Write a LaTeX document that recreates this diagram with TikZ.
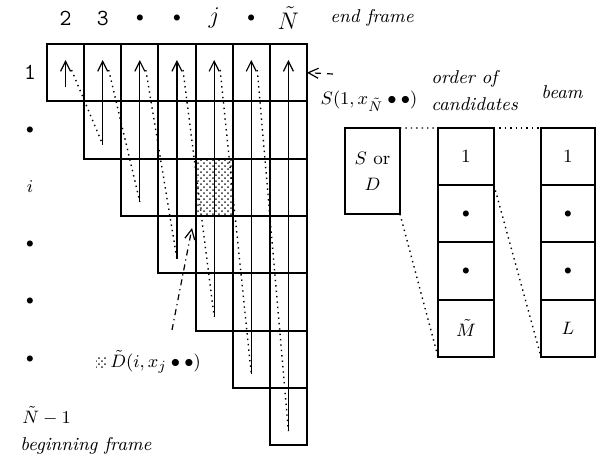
\documentclass[tikz,border=0pt]{standalone}
\usepackage{tikz}
\usetikzlibrary{arrows.meta,patterns}

\begin{document}
\begin{tikzpicture}[x=0.5pt, y=-0.5pt, font=\fontsize{9.3}{11}\selectfont,
  cell/.style={draw, line width=1pt, minimum width=18.57pt, minimum height=28.65pt, inner sep=0pt, outer sep=0pt},
  slot/.style={draw, line width=1pt, minimum width=28pt, minimum height=28.6pt, inner sep=0pt, outer sep=0pt},
  pass/.style={line width=0.6pt, -{Straight Barb[length=5pt,width=5pt]}},
  link/.style={dotted, line width=0.7pt},
  shade/.style={pattern=crosshatch dots, pattern color=black!85},
  big/.style={font=\fontsize{11.5}{13}\selectfont, inner sep=1pt}]
\useasboundingbox (0,0) rectangle (596,463);

% Shaded cell (i,j)
\fill[shade] (195.56,158.6) rectangle (232.7,215.9);

% Staircase of cells
\foreach \r in {1,...,7}{
  \foreach \c in {\r,...,7}{
    \node[cell] (cell-\r-\c) at ({47+(\c-0.5)*37.14},{44+(\r-0.5)*57.3}) {};
  }
}

% Column passes
\foreach \c in {1,...,7}{
  \coordinate (t\c) at ({47+(\c-0.5)*37.14},60);
  \coordinate (d\c) at ({53+(\c-0.5)*37.14},70);
  \coordinate (b\c) at ({47+(\c-0.5)*37.14},{30+\c*57.3});
  \draw[pass] (b\c) -- (t\c);
}
\foreach \c [count=\n from 2] in {1,...,6}{
  \draw[link] (d\c) -- (b\n);
}

% End frames
\foreach \t [count=\c] in {\texttt{2},\texttt{3},{\scriptsize$\bullet$},{\scriptsize$\bullet$},$j$,{\scriptsize$\bullet$},$\tilde N$}{
  \node[big] (col\c) at ({47+(\c-0.5)*37.14},18) {\t};
}
\node[anchor=west, inner sep=1pt] (endlab) at (328,18) {\itshape end frame};

% Beginning frames
\node[big] (row1) at (30,72.6) {\texttt{1}};
\node (row2) at (30,130) {\scriptsize$\bullet$};
\node (row3) at (30,187) {$i$};
\node (row4) at (30,244) {\scriptsize$\bullet$};
\node (row5) at (30,301) {\scriptsize$\bullet$};
\node (row6) at (30,359) {\scriptsize$\bullet$};
\node[anchor=west, inner sep=1pt] (row7) at (20,416) {$\tilde N - 1$};
\node[anchor=west, inner sep=1pt] (beglab) at (18,446) {\itshape beginning frame};

% Final score
\node[inner sep=1pt] (slab) at (369,101) {$S(1, x_{\tilde N}\bullet\bullet)$};
\coordinate (sfrom) at (333,74);
\draw[pass, dashed] (sfrom) -- (cell-1-7.east);

% Local score
\node[shade, minimum size=5pt, inner sep=0pt] (dkey) at (101,362) {};
\node[anchor=west, inner sep=1pt] (dlab) at (108,362) {$\tilde D(i, x_j \bullet\bullet)$};
\coordinate (dfrom) at (172,330);
\coordinate (dto) at (192,228);
\draw[pass, dash dot] (dfrom) -- (dto);

% Score box, candidates and beam
\node[slot, minimum width=27.5pt, minimum height=43pt, align=center] (sd) at (372.5,171) {$S$ or\\[2pt]$D$};
\foreach \t [count=\k] in {1,{\scriptsize$\bullet$},{\scriptsize$\bullet$},$\tilde M$}{
  \node[slot] (ord\k) at (466,{128+(\k-0.5)*57.2}) {\t};
}
\foreach \t [count=\k] in {1,{\scriptsize$\bullet$},{\scriptsize$\bullet$},$L$}{
  \node[slot, minimum width=27pt] (beam\k) at (568,{128+(\k-0.5)*57.2}) {\t};
}
\node[anchor=west, align=left, inner sep=1pt] (ordlab) at (429,91) {\itshape order of\\[2.5pt]\itshape candidates};
\node[inner sep=1pt] (beamlab) at (562,92) {\itshape beam};

\draw[link] (sd.north east) -- (ord1.north west);
\draw[link] (ord1.north east) -- (beam1.north west);
\draw[link] (sd.south east) -- (ord4.south west);
\draw[link] (ord1.south east) -- (beam4.south west);

\end{tikzpicture}
\end{document}
